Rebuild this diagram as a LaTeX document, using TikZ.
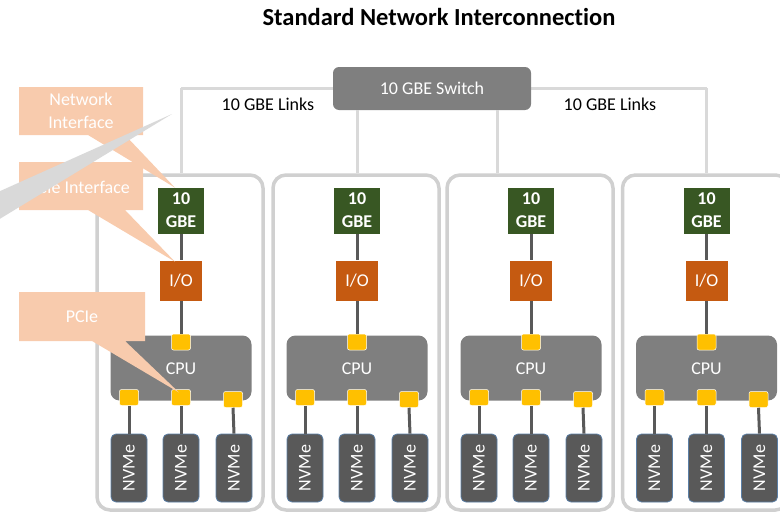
\documentclass[tikz,border=0pt]{standalone}
\usepackage{fontspec}
\setmainfont[Ligatures=NoCommon]{Carlito}
\usetikzlibrary{calc}
\definecolor{netgray}{HTML}{D9D9D9}
\definecolor{boxgray}{HTML}{D0D0D0}
\definecolor{midgray}{HTML}{7F7F7F}
\definecolor{darkgray}{HTML}{595959}
\definecolor{gbegreen}{HTML}{385723}
\definecolor{ioorange}{HTML}{C55A11}
\definecolor{portyellow}{HTML}{FFC000}
\definecolor{nvmeedge}{HTML}{5B7FA6}
\definecolor{peach}{HTML}{F8CBAD}
\tikzset{
  net/.style={draw=netgray, line width=3pt},
  link/.style={draw=darkgray, line width=3pt},
  server/.style={draw=boxgray, line width=3.5pt, rounded corners=13pt,
    minimum width=166pt, minimum height=335pt, inner sep=0pt},
  gbe/.style={fill=gbegreen, draw=white, line width=0.6pt, text=white,
    minimum width=47pt, minimum height=47pt, inner sep=0pt, align=center,
    font=\bfseries\fontsize{18}{23}\selectfont},
  iobox/.style={fill=ioorange, draw=white, line width=0.6pt, text=white,
    minimum width=43pt, minimum height=41pt, inner sep=0pt,
    font=\fontsize{18}{22}\selectfont},
  cpubox/.style={fill=midgray, rounded corners=9pt, text=white,
    minimum width=141pt, minimum height=65pt, inner sep=0pt,
    font=\fontsize{18}{22}\selectfont},
  port/.style={fill=portyellow, draw=white, line width=0.5pt, rounded corners=2pt,
    minimum width=19pt, minimum height=16pt, inner sep=0pt},
  nvme/.style={fill=darkgray, draw=nvmeedge, line width=0.8pt, rounded corners=5pt,
    minimum width=36pt, minimum height=68pt, inner sep=0pt},
  nvmetext/.style={text=white, rotate=90, font=\fontsize{18}{22}\selectfont},
  callout/.style={fill=peach},
  callouttext/.style={text=white, align=center, font=\fontsize{18}{23}\selectfont},
  label/.style={font=\fontsize{18}{22}\selectfont},
}
\begin{document}
\begin{tikzpicture}[x=1pt, y=-1pt]
\useasboundingbox (0,0) rectangle (780,514);
\clip (0,0) rectangle (780,514);

% title
\node (title) at (439,17) {\bfseries\fontsize{24.5}{28}\selectfont Standard Network Interconnection};

% server chassis and their parts
\foreach \i/\cx in {1/181, 2/357, 3/531, 4/706.5} {
  \node[server] (s\i) at (\cx-1,342.5) {};
  \node[gbe] (g\i) at (\cx,210.5) {10\\GBE};
  \node[iobox] (io\i) at (\cx,280.5) {I/O};
  \node[cpubox] (cpu\i) at (\cx,368) {};
  \node[text=white, font=\fontsize{18}{22}\selectfont] (cl\i) at (\cx,368.5) {CPU};
  \node[port] (pt\i) at (\cx,342) {};
  \node[port] (pl\i) at (\cx-52,397.5) {};
  \node[port] (pm\i) at (\cx,397.5) {};
  \node[port] (pr\i) at (\cx+52,399.5) {};
  \node[nvme] (nl\i) at (\cx-52,468) {};
  \node[nvme] (nm\i) at (\cx,468) {};
  \node[nvme] (nr\i) at (\cx+53,468) {};
  \foreach \n in {nl,nm,nr} {
    \node[nvmetext] at (\n\i) {NVMe};
  }
  \draw[link] (g\i.south) -- (io\i.north);
  \draw[link] (io\i.south) -- (pt\i.north);
  \draw[link] (pl\i.south) -- (nl\i.north);
  \draw[link] (pm\i.south) -- (nm\i.north);
  \draw[link] (pr\i.south) -- (nr\i.north);
}

% 10 GbE switch and links
\coordinate (t1) at (181,88);
\coordinate (t4) at (706.5,88);
\coordinate (d3) at (497,0);
\draw[net] (t1) -- (t4);
\draw[net] (t1) -- (t1 |- s1.north);
\draw[net] (t4) -- (t4 |- s4.north);
\node[fill=midgray, rounded corners=6pt, minimum width=198pt, minimum height=43pt,
  inner sep=0pt, text=white, font=\fontsize{18}{22}\selectfont] (sw) at (432,88.5) {10 GBE Switch};
\draw[net] (sw.south -| g2) -- (g2 |- s2.north);
\draw[net] (sw.south -| d3) -- (d3 |- s3.north);
\node[label] (lk1) at (268,104) {10 GBE Links};
\node[label] (lk2) at (610,104) {10 GBE Links};

% callouts
\coordinate (tipA) at ($(g1.north)+(-6,1)$);
\coordinate (tipB) at ($(io1.north)+(-6,2)$);
\coordinate (tipC) at ($(pm1.center)+(-2,-5)$);
\fill[callout] (19,87) -- (143,87) -- (143,135) -- (125,135) -- (tipA) -- (88,135) -- (19,135) -- cycle;
\node[callouttext] (ni) at (81,111) {Network\\Interface};
\fill[callout] (19,162) -- (143,162) -- (143,210) -- (125,210) -- (tipB) -- (88,210) -- (19,210) -- cycle;
\node[callouttext] (pi) at (79,187) {PCIe Interface};
\fill[callout] (19,292) -- (145,292) -- (145,341) -- (125,341) -- (tipC) -- (92,341) -- (19,341) -- cycle;
\node[callouttext] (pc) at (82,317) {PCIe};

% pointer of a callout further left
\coordinate (tipD) at (172,114);
\fill[netgray] (-2,192) -- (tipD) -- (-2,220) -- cycle;
\end{tikzpicture}
\end{document}
